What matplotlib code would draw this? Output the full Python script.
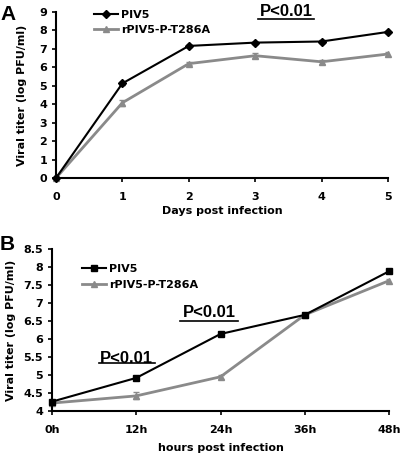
import matplotlib
matplotlib.use("Agg")
import matplotlib.pyplot as plt
import numpy as np

plt.rcParams['font.family'] = ['DejaVu Sans']

# Panel A data
days = [0, 1, 2, 3, 4, 5]
a_piv5 = [0.0, 5.13, 7.16, 7.34, 7.40, 7.92]
a_piv5_err = [0.03, 0.08, 0.06, 0.06, 0.06, 0.06]
a_mut = [0.0, 4.08, 6.20, 6.63, 6.30, 6.72]
a_mut_err = [0.03, 0.15, 0.10, 0.12, 0.12, 0.10]

# Panel B data
hours = [0, 12, 24, 36, 48]
hour_labels = ['0h', '12h', '24h', '36h', '48h']
b_piv5 = [4.26, 4.92, 6.14, 6.67, 7.88]
b_piv5_err = [0.04, 0.05, 0.04, 0.04, 0.05]
b_mut = [4.22, 4.42, 4.95, 6.67, 7.62]
b_mut_err = [0.05, 0.10, 0.06, 0.04, 0.06]

series_names = ['PIV5', 'rPIV5-P-T286A']
gray = '#8a8a8a'
FS = 8

fig = plt.figure(figsize=(4.0, 4.54), dpi=100)

def style_axes(ax):
    for s in ['top', 'right']:
        ax.spines[s].set_visible(False)
    for s in ['left', 'bottom']:
        ax.spines[s].set_linewidth(1.5)
    ax.tick_params(axis='both', direction='out', length=3, width=1.2, labelsize=FS)
    for lab in ax.get_xticklabels() + ax.get_yticklabels():
        lab.set_fontweight('bold')

def pval(ax, x, y, w_frac, line_y):
    ax.text(x, y, 'P<0.01', family='Liberation Sans', fontweight='bold', fontsize=12,
            ha='center', va='center', transform=ax.transAxes)
    ax.plot([x - w_frac / 2, x + w_frac / 2], [line_y, line_y], color='black', lw=1.2,
            transform=ax.transAxes, clip_on=False)

def draw_series(ax, x, y, err, color, marker, ms, lw, label, z):
    ax.errorbar(x, y, yerr=err, fmt='none', ecolor=color, elinewidth=1, capsize=2, zorder=z)
    ax.plot(x, y, color=color, marker=marker, markersize=ms, lw=lw, label=label, zorder=z,
            clip_on=False)

# ---- Panel A
axA = fig.add_axes([0.14, 0.6079, 0.83, 0.3657])
draw_series(axA, days, a_piv5, a_piv5_err, 'black', 'D', 4, 1.5, series_names[0], 3)
draw_series(axA, days, a_mut, a_mut_err, gray, '^', 5, 2, series_names[1], 2)
axA.set_xlim(0, 5)
axA.set_ylim(0, 9)
axA.set_xticks(days)
axA.set_yticks(range(0, 10))
axA.tick_params(axis='x', pad=7)
axA.set_xlabel('Days post infection', fontsize=FS, fontweight='bold', labelpad=3)
axA.set_ylabel('Viral titer (log PFU/ml)', fontsize=FS, fontweight='bold', labelpad=9)
style_axes(axA)
axA.legend(loc='upper left', bbox_to_anchor=(0.10, 1.04), frameon=False,
           prop={'weight': 'bold', 'size': FS}, handlelength=2.2, handletextpad=0.3,
           labelspacing=0.5, borderaxespad=0)
pval(axA, 0.693, 1.0, 0.168, 0.955)
fig.text(0.0, 0.99, 'A', family='Liberation Sans', fontweight='bold', fontsize=15,
         ha='left', va='top')

# ---- Panel B
axB = fig.add_axes([0.13, 0.0947, 0.8425, 0.3568])
draw_series(axB, hours, b_piv5, b_piv5_err, 'black', 's', 5, 1.5, series_names[0], 3)
draw_series(axB, hours, b_mut, b_mut_err, gray, '^', 5, 2, series_names[1], 2)
axB.set_xlim(0, 48)
axB.set_ylim(4, 8.5)
axB.set_xticks(hours)
axB.set_xticklabels(hour_labels)
axB.set_yticks(np.arange(4, 8.51, 0.5))
axB.set_yticklabels(['4', '4.5', '5', '5.5', '6', '6.5', '7', '7.5', '8', '8.5'])
axB.tick_params(axis='x', pad=7)
axB.set_xlabel('hours post infection', fontsize=FS, fontweight='bold', labelpad=6)
axB.set_ylabel('Viral titer (log PFU/ml)', fontsize=FS, fontweight='bold', labelpad=5)
style_axes(axB)
axB.legend(loc='upper left', bbox_to_anchor=(0.075, 0.935), frameon=False,
           prop={'weight': 'bold', 'size': FS}, handlelength=2.2, handletextpad=0.3,
           labelspacing=0.5, borderaxespad=0)
pval(axB, 0.222, 0.327, 0.166, 0.296)
pval(axB, 0.466, 0.611, 0.172, 0.556)
fig.text(0.0, 0.482, 'B', family='Liberation Sans', fontweight='bold', fontsize=15,
         ha='left', va='top')

fig.savefig('out.png', dpi=100)
